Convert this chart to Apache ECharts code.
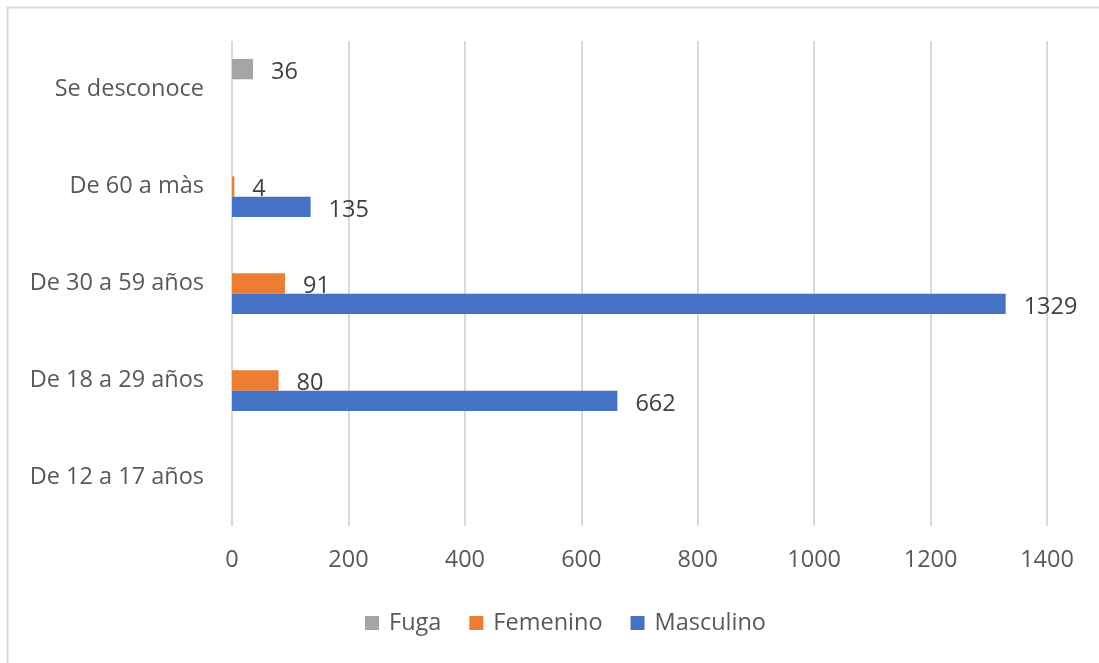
<!DOCTYPE html>
<html>
<head>
<meta charset="utf-8">
<script src="https://cdn.jsdelivr.net/npm/echarts@6/dist/echarts.min.js"></script>
<style>
  html, body { margin: 0; padding: 0; background: #fff; }
  #chart { width: 1099px; height: 663px; }
</style>
</head>
<body>
<div id="chart"></div>
<script>
// Age groups, listed bottom to top along the category axis
const categories = ['De 12 a 17 años', 'De 18 a 29 años', 'De 30 a 59 años', 'De 60 a màs', 'Se desconoce'];
const masculino = [null, 662, 1329, 135, null];
const femenino = [null, 80, 91, 4, null];
const fuga = [null, null, null, null, 36];
const xTicks = { min: 0, max: 1400, interval: 200 };

const FONT = '"Open Sans", "Noto Sans", sans-serif';
const FS = 23.5;

const chart = echarts.init(document.getElementById('chart'), null, { renderer: 'canvas' });

function barSeries(name, data, color) {
  return {
    name: name,
    type: 'bar',
    data: data,
    barGap: '0%',
    barCategoryGap: '37%',
    itemStyle: { color: color },
    label: {
      show: true,
      position: 'right',
      distance: 18,
      color: '#404040',
      fontFamily: FONT,
      fontSize: FS,
      offset: [0, 3]
    }
  };
}

chart.setOption({
  animation: false,
  backgroundColor: '#fff',
  textStyle: { fontFamily: FONT },
  graphic: [{
    type: 'rect',
    shape: { x: 7.5, y: 7.5, width: 1200, height: 1200 },
    style: { fill: 'none', stroke: '#D9D9D9', lineWidth: 2 },
    silent: true
  }],
  grid: { left: 232, right: 52, top: 41, bottom: 137, containLabel: false },
  legend: {
    data: ['Fuga', 'Femenino', 'Masculino'],
    top: 606,
    left: 360,
    icon: 'rect',
    itemWidth: 14,
    itemHeight: 14,
    itemGap: 28,
    textStyle: { color: '#595959', fontSize: FS, fontFamily: FONT, padding: [0, 0, 0, 5] }
  },
  xAxis: {
    type: 'value',
    min: xTicks.min,
    max: xTicks.max,
    interval: xTicks.interval,
    axisLine: { show: false },
    axisTick: { show: false },
    axisLabel: {
      color: '#595959', fontSize: FS, fontFamily: FONT, margin: 22,
      formatter: function (v) { return String(v); }
    },
    splitLine: { show: true, lineStyle: { color: '#D9D9D9', width: 2 } }
  },
  yAxis: {
    type: 'category',
    data: categories,
    axisLine: { show: false },
    axisTick: { show: false },
    axisLabel: { color: '#595959', fontSize: FS, fontFamily: FONT, margin: 28 }
  },
  series: [
    barSeries('Fuga', fuga, '#A5A5A5'),
    barSeries('Femenino', femenino, '#ED7D31'),
    barSeries('Masculino', masculino, '#4472C4')
  ]
});
</script>
</body>
</html>
